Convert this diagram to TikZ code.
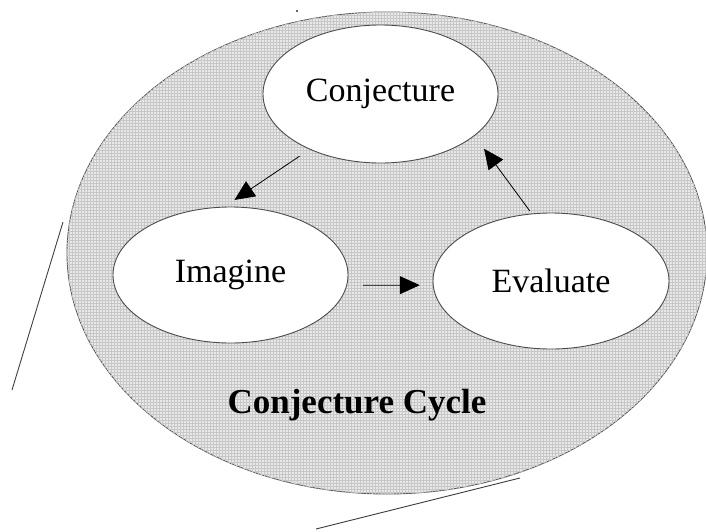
\documentclass[tikz,border=0pt]{standalone}
\usepackage{fontspec}
\setmainfont{Liberation Serif}
\usetikzlibrary{shapes.geometric,arrows.meta,patterns}
\begin{document}
\begin{tikzpicture}[x=1pt,y=-1pt,
  outer/.style={ellipse, draw=black!65, line width=0.9pt, fill=black!9,
    postaction={pattern=grid, pattern color=black!22},
    inner sep=0pt, minimum width=640pt, minimum height=482pt},
  oval/.style={ellipse, draw=black!70, line width=0.9pt, fill=white,
    inner sep=0pt, font=\fontsize{34}{40}\selectfont},
  arr/.style={-{Triangle[length=20pt,width=18pt]}, line width=0.8pt, black},
  callout/.style={draw=black!75, line width=0.9pt},
  title/.style={font=\bfseries\fontsize{35}{40}\selectfont}]
\useasboundingbox (0,0) rectangle (706,531);
% big shaded ellipse
\node[outer] (cycle) at (387,253) {};
% inner ellipses
\node[oval, minimum width=235pt, minimum height=138pt] (conj) at (380.5,94) {Conjecture};
\node[oval, minimum width=235pt, minimum height=136pt] (imag) at (230.5,275) {Imagine};
\node[oval, minimum width=236pt, minimum height=136pt] (eval) at (551,281) {Evaluate};
% title
\node[title] (ttl) at (357,405) {Conjecture Cycle};
% arrows
\draw[arr, shorten <=12pt, shorten >=12pt] (conj.218) -- (imag.95);
\draw[arr, shorten <=3pt, shorten >=16pt] (eval.106) -- (conj.336);
\draw[arr, shorten <=16pt, shorten >=13pt] (imag.-5) -- (eval.182);
% callout lines
\coordinate (l1a) at (63,222);
\coordinate (l1b) at (12,390);
\coordinate (l2a) at (316,529);
\coordinate (l2b) at (520,478);
\draw[callout] (l1a) -- (l1b);
\draw[callout] (l2a) -- (l2b);
% small speck
\coordinate (dot) at (297,11);
\fill[black!80] (dot) circle (1.2pt);
\end{tikzpicture}
\end{document}
